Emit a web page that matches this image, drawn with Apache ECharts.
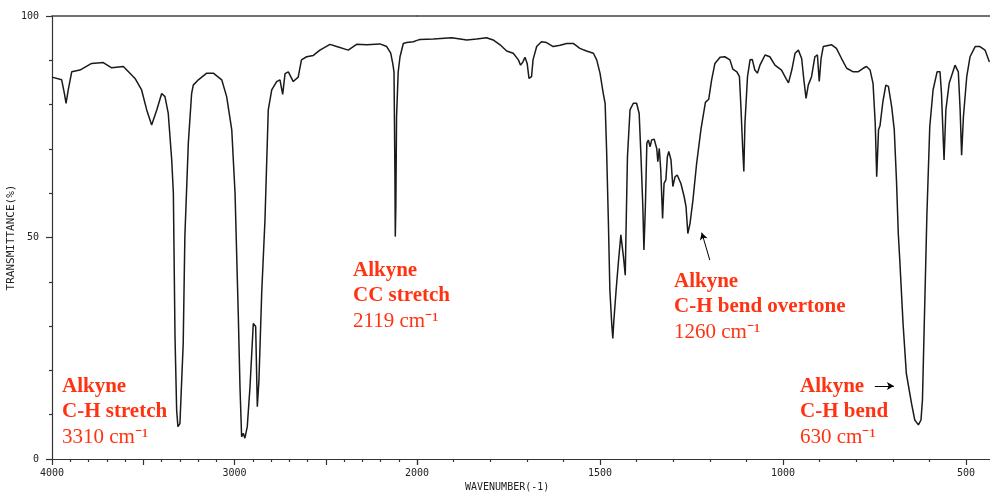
<!DOCTYPE html>
<html>
<head>
<meta charset="utf-8">
<script src="https://cdn.jsdelivr.net/npm/echarts@6/dist/echarts.min.js"></script>
<style>
  html, body { margin: 0; padding: 0; background: #ffffff; }
  #chart { width: 990px; height: 493px; }
</style>
</head>
<body>
<div id="chart"></div>
<script>
// IR spectrum of a terminal alkyne: wavenumber (cm-1) vs transmittance (%)
const wavenumber = [
  4000, 3947, 3932, 3923, 3911, 3892, 3847, 3783, 3719, 3673, 3609, 3545, 3509, 3481, 3454, 3426,
  3399, 3381, 3363, 3344, 3335, 3326, 3317, 3310, 3299, 3281, 3272, 3253, 3235, 3226, 3198, 3152,
  3116, 3070, 3043, 3015, 2997, 2979, 2970, 2961, 2952, 2943, 2930, 2915, 2897, 2884, 2875, 2866,
  2851, 2833, 2815, 2796, 2769, 2751, 2736, 2723, 2705, 2678, 2651, 2633, 2605, 2568, 2532, 2477,
  2440, 2377, 2331, 2276, 2203, 2166, 2144, 2133, 2126, 2121, 2119, 2116, 2112, 2103, 2093, 2075,
  2057, 2020, 2000, 1992, 1955, 1905, 1864, 1837, 1810, 1792, 1773, 1755, 1737, 1723, 1717, 1711,
  1705, 1699, 1694, 1687, 1683, 1673, 1660, 1646, 1628, 1609, 1591, 1573, 1555, 1537, 1518, 1509,
  1500, 1491, 1486, 1482, 1477, 1473, 1468, 1465, 1462, 1456, 1450, 1443, 1439, 1436, 1431, 1429,
  1425, 1418, 1409, 1400, 1393, 1388, 1383, 1380, 1376, 1372, 1368, 1363, 1359, 1352, 1345, 1342,
  1338, 1334, 1329, 1325, 1320, 1316, 1312, 1306, 1301, 1295, 1289, 1279, 1270, 1265, 1260, 1254,
  1246, 1236, 1224, 1212, 1203, 1195, 1186, 1172, 1159, 1145, 1137, 1126, 1119, 1115, 1110, 1107,
  1104, 1097, 1090, 1084, 1077, 1070, 1063, 1049, 1036, 1022, 1004, 992, 985, 976, 967, 958,
  949, 943, 937, 931, 922, 913, 906, 901, 896, 890, 867, 854, 840, 826, 808, 795,
  781, 772, 762, 754, 748, 744, 739, 735, 727, 719, 712, 703, 696, 690, 685, 681,
  672, 663, 649, 640, 630, 623, 619, 614, 610, 607, 599, 590, 579, 571, 567, 560,
  555, 546, 530, 521, 516, 512, 507, 498, 489, 475, 462, 448, 436
];
const transmittance = [
  86.2, 85.6, 82.5, 80.3, 83.3, 87.4, 87.8, 89.3, 89.5, 88.3, 88.6, 85.9, 83.3, 78.8, 75.4, 78.8,
  82.5, 81.8, 78.0, 67.5, 60.0, 27.6, 11.0, 7.3, 8.0, 26.1, 50.2, 71.3, 82.5, 84.4, 85.6, 87.1,
  87.1, 85.6, 81.8, 74.3, 60.0, 32.1, 16.3, 5.0, 5.8, 4.7, 7.3, 16.3, 30.6, 29.9, 11.8, 17.8,
  37.4, 54.0, 78.8, 83.3, 85.2, 85.6, 82.3, 87.0, 87.4, 85.2, 86.2, 90.1, 90.8, 91.1, 92.3, 93.6,
  93.1, 92.3, 93.6, 93.5, 93.7, 93.1, 91.6, 89.3, 87.4, 64.5, 50.2, 57.0, 77.3, 87.4, 90.8, 93.8,
  94.0, 94.2, 94.5, 94.7, 94.8, 95.1, 94.6, 94.8, 95.1, 94.6, 93.5, 92.1, 91.6, 90.1, 88.9, 89.6,
  90.7, 89.3, 85.9, 86.3, 90.1, 93.1, 94.2, 94.0, 93.1, 93.4, 93.8, 93.8, 92.7, 92.1, 91.6, 90.1,
  87.1, 82.5, 80.3, 69.8, 53.2, 38.1, 30.6, 27.2, 31.4, 38.1, 44.2, 50.6, 50.2, 45.7, 41.5, 50.9,
  68.2, 78.8, 80.3, 80.3, 78.0, 68.2, 57.0, 47.2, 57.0, 71.3, 72.0, 70.5, 72.0, 72.2, 70.1, 67.1,
  70.1, 65.2, 54.3, 62.2, 63.0, 68.2, 69.4, 67.5, 61.5, 63.7, 64.1, 62.2, 59.2, 57.0, 50.9, 53.2,
  58.5, 66.7, 74.5, 80.5, 81.2, 85.6, 89.3, 90.7, 90.8, 90.1, 88.0, 87.4, 86.3, 79.5, 69.8, 64.9,
  75.8, 86.3, 90.1, 90.2, 87.8, 87.1, 88.9, 91.2, 90.8, 88.9, 87.8, 85.9, 84.9, 87.8, 91.6, 92.3,
  90.4, 85.6, 81.4, 84.4, 86.3, 90.8, 91.2, 85.2, 90.4, 93.1, 93.5, 92.7, 90.4, 88.2, 87.4, 87.4,
  88.2, 88.6, 87.8, 84.8, 75.8, 63.7, 74.3, 75.2, 80.7, 84.4, 84.1, 79.5, 74.3, 63.0, 50.9, 45.0,
  30.6, 19.3, 12.6, 8.8, 7.7, 8.8, 13.3, 30.6, 44.2, 54.7, 75.0, 83.3, 87.4, 87.4, 82.5, 67.5,
  78.8, 84.8, 88.9, 87.4, 78.8, 68.6, 77.3, 86.3, 90.8, 93.1, 93.1, 92.3, 89.6
];

// Labelled ticks on each axis
const xTickLabels = [4000, 3000, 2000, 1500, 1000, 500];
const yTickLabels = [0, 50, 100];

// Band assignments: text lines and the arrow (tail -> head, in data units)
const bandTitles = ['Alkyne', 'Alkyne', 'Alkyne', 'Alkyne'];
const bandModes = ['C-H stretch', 'CC stretch', 'C-H bend overtone', 'C-H bend'];
const bandValues = ['3310 cm\u207B\u00B9', '2119 cm\u207B\u00B9', '1260 cm\u207B\u00B9', '630 cm\u207B\u00B9'];
const overtoneArrow = [[1200, 44.9], [1222, 51.1]];
const bendArrow = [[749, 16.5], [697, 16.5]];

const points = wavenumber.map((w, i) => [w, transmittance[i]]);
// The chart paper changes scale at 2000 cm-1: two panels, the right one twice as expanded
const highRange = points.filter(p => p[0] >= 2000);
const lowRange = points.filter(p => p[0] <= 2000);

const ink = '#1a1a1a';
const axisInk = '#333333';
const red = '#ff3311';
const plotFont = '"DejaVu Sans Mono", monospace';

function bottomAxis(gridIndex, min, max, skip) {
  return {
    gridIndex, type: 'value', min, max, interval: 500, inverse: true, position: 'bottom',
    axisLine: { show: true, onZero: false, lineStyle: { color: axisInk, width: 1.2 } },
    axisTick: { show: true, length: 6, lineStyle: { color: axisInk, width: 1.2 } },
    minorTick: { show: true, splitNumber: 5, length: 3, lineStyle: { color: axisInk, width: 1.2 } },
    splitLine: { show: false }, minorSplitLine: { show: false },
    axisLabel: {
      show: true, margin: 9, fontFamily: plotFont, fontSize: 10, color: '#222',
      showMinLabel: true, showMaxLabel: true,
      formatter: v => (xTickLabels.includes(v) && !skip.includes(v)) ? String(v) : ''
    }
  };
}
function topAxis(gridIndex, min, max) {
  return {
    gridIndex, type: 'value', min, max, inverse: true, position: 'top',
    axisLine: { show: true, onZero: false, lineStyle: { color: '#444', width: 1.5 } },
    axisTick: { show: false }, axisLabel: { show: false }, splitLine: { show: false }
  };
}

const annotationLeft = [62, 353, 674, 800];
const annotationBaseline = [394, 278, 289, 394];
const graphics = [];
bandTitles.forEach((t, i) => {
  const lines = [
    { text: t, weight: 'bold' },
    { text: bandModes[i], weight: 'bold' },
    { text: bandValues[i], weight: 'normal' }
  ];
  lines.forEach((ln, k) => {
    graphics.push({
      type: 'text', left: annotationLeft[i], top: annotationBaseline[i] + k * 25.5 - 18,
      style: {
        text: ln.text, fill: red, fontFamily: '"Liberation Serif", "Times New Roman", serif',
        fontSize: 21, fontWeight: ln.weight
      }
    });
  });
});
graphics.push({
  type: 'text', left: 465, top: 482,
  style: { text: 'WAVENUMBER(-1)', fill: '#222', fontFamily: plotFont, fontSize: 10 }
});

const chart = echarts.init(document.getElementById('chart'), null, { renderer: 'canvas' });
chart.setOption({
  animation: false,
  backgroundColor: '#ffffff',
  grid: [
    { left: 52, width: 365, top: 16, height: 443, outerBoundsMode: 'none', containLabel: false },
    { left: 417, width: 732, top: 16, height: 443, outerBoundsMode: 'none', containLabel: false }
  ],
  xAxis: [
    bottomAxis(0, 2000, 4000, []),
    bottomAxis(1, 0, 2000, [2000]),
    topAxis(0, 2000, 4000),
    topAxis(1, 0, 2000)
  ],
  yAxis: [
    {
      gridIndex: 0, type: 'value', min: 0, max: 100, interval: 50,
      name: 'TRANSMITTANCE(%)', nameLocation: 'middle', nameGap: 25, nameRotate: 90,
      nameTextStyle: { fontFamily: plotFont, fontSize: 11, color: '#222' },
      axisLine: { show: true, lineStyle: { color: axisInk, width: 1.2 } },
      axisTick: { show: true, length: 6, lineStyle: { color: axisInk, width: 1.2 } },
      minorTick: { show: true, splitNumber: 5, length: 3, lineStyle: { color: axisInk, width: 1.2 } },
      splitLine: { show: false }, minorSplitLine: { show: false },
      axisLabel: {
        margin: 13, fontFamily: plotFont, fontSize: 10, color: '#222',
        formatter: v => yTickLabels.includes(v) ? String(v) : ''
      }
    },
    { gridIndex: 1, type: 'value', min: 0, max: 100, show: false }
  ],
  series: [
    {
      type: 'line', xAxisIndex: 0, yAxisIndex: 0, data: highRange,
      symbol: 'none', smooth: false, lineStyle: { color: ink, width: 1.5 }
    },
    {
      type: 'line', xAxisIndex: 1, yAxisIndex: 1, data: lowRange,
      symbol: 'none', smooth: false, lineStyle: { color: ink, width: 1.5 },
      markLine: {
        silent: true, symbol: ['none', 'arrow'], symbolSize: [6, 7],
        label: { show: false },
        lineStyle: { color: '#000', width: 1, type: 'solid' },
        data: [
          [{ coord: overtoneArrow[0] }, { coord: overtoneArrow[1] }],
          [{ coord: bendArrow[0] }, { coord: bendArrow[1] }]
        ]
      }
    }
  ],
  graphic: graphics
});
</script>
</body>
</html>
